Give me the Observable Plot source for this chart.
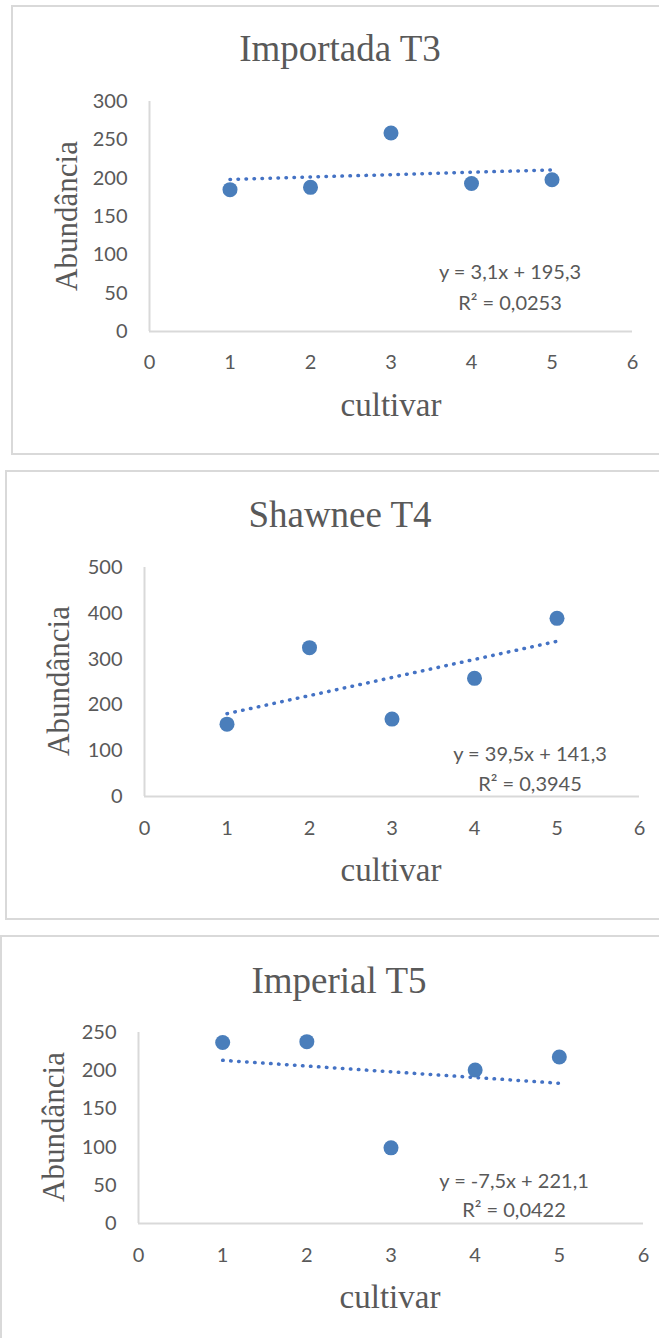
<!DOCTYPE html>
<html>
<head>
<meta charset="utf-8">
<script src="https://cdn.jsdelivr.net/npm/d3@7"></script>
<script src="https://cdn.jsdelivr.net/npm/@observablehq/plot@0.6"></script>
<style>
  html, body { margin: 0; padding: 0; background: #fff; overflow: hidden; }
  #page { position: relative; width: 659px; height: 1338px; overflow: hidden; }
  .box { position: absolute; border: 2px solid #d9d9d9; box-sizing: border-box; }
  .abs { position: absolute; white-space: nowrap; color: #595959; }
  .title { font-family: "Liberation Serif", serif; font-size: 37px; transform: translate(-50%, -50%); }
  .xlab { font-family: "Liberation Serif", serif; font-size: 33px; transform: translate(-50%, -50%); }
  .ylab { font-family: "Liberation Serif", serif; font-size: 31px; transform: translate(-50%, -50%) rotate(-90deg); }
  .eq { font-family: Lato, sans-serif; font-size: 20px; transform: translate(-50%, -50%); }
  .svgwrap { position: absolute; left: 0; }
</style>
</head>
<body>
<div id="page"></div>
<script>
// ---- data ----
const cultivar = [1, 2, 3, 4, 5];
const titles = ["Importada T3", "Shawnee T4", "Imperial T5"];
const abundanciaT3 = [185, 188, 259, 193, 198];
const abundanciaT4 = [158, 325, 169, 258, 389];
const abundanciaT5 = [237, 238, 99, 201, 218];
const equations = ["y = 3,1x + 195,3", "y = 39,5x + 141,3", "y = -7,5x + 221,1"];
const r2labels = ["R² = 0,0253", "R² = 0,3945", "R² = 0,0422"];
const xTicks = [0, 1, 2, 3, 4, 5, 6];
const yTicksT3 = [0, 50, 100, 150, 200, 250, 300];
const yTicksT4 = [0, 100, 200, 300, 400, 500];
const yTicksT5 = [0, 50, 100, 150, 200, 250];
const xLabel = "cultivar";
const yLabel = "Abundância";

// ---- layout ----
const page = document.getElementById("page");
const panels = [
  {values: abundanciaT3, yTicks: yTicksT3, svgTop: 0, height: 460,
   margin: {left: 149, right: 27, top: 101, bottom: 129},
   box: {left: 11, top: 5, width: 700, height: 450},
   title: [340, 48], ylab: [67, 216], xlab: [391, 405], eq: [510, 271], r2: [510, 302], xpad: 24},
  {values: abundanciaT4, yTicks: yTicksT4, svgTop: 460, height: 460,
   margin: {left: 144, right: 20, top: 107, bottom: 124},
   box: {left: 5, top: 470, width: 700, height: 450},
   title: [340, 514], ylab: [59, 681], xlab: [391, 870], eq: [530, 753], r2: [530, 783], xpad: 25},
  {values: abundanciaT5, yTicks: yTicksT5, svgTop: 920, height: 418,
   margin: {left: 138, right: 16, top: 112, bottom: 115},
   box: {left: 0, top: 935, width: 700, height: 450},
   title: [339, 980], ylab: [54, 1127], xlab: [390, 1297], eq: [514, 1180], r2: [514, 1209], xpad: 25}
];

function addText(cls, txt, pos) {
  const d = document.createElement("div");
  d.className = "abs " + cls;
  d.textContent = txt;
  d.style.left = pos[0] + "px";
  d.style.top = pos[1] + "px";
  page.appendChild(d);
}

panels.forEach((p, i) => {
  const box = document.createElement("div");
  box.className = "box";
  Object.assign(box.style, {left: p.box.left + "px", top: p.box.top + "px", width: p.box.width + "px", height: p.box.height + "px"});
  page.appendChild(box);

  const data = cultivar.map((c, j) => ({cultivar: c, abundancia: p.values[j]}));
  const yMax = p.yTicks[p.yTicks.length - 1];
  const chart = Plot.plot({
    width: 659,
    height: p.height,
    marginLeft: p.margin.left,
    marginRight: p.margin.right,
    marginTop: p.margin.top,
    marginBottom: p.margin.bottom,
    style: {fontFamily: "Lato, sans-serif", fontSize: "20px", color: "#595959", background: "transparent", overflow: "visible"},
    x: {domain: [0, 6]},
    y: {domain: [0, yMax]},
    marks: [
      Plot.ruleY([0], {stroke: "#d9d9d9", strokeWidth: 2}),
      Plot.ruleX([0], {stroke: "#d9d9d9", strokeWidth: 2}),
      Plot.axisX({ticks: xTicks, tickSize: 0, tickPadding: p.xpad - 1, label: null, fill: "#595959", fontSize: 20, tickFormat: d => String(d)}),
      Plot.axisY({ticks: p.yTicks, tickSize: 0, tickPadding: 22, label: null, fill: "#595959", fontSize: 20, tickFormat: d => String(d)}),
      Plot.linearRegressionY(data, {x: "cultivar", y: "abundancia", ci: 0, stroke: "#4472c4", strokeWidth: 3.5, strokeDasharray: "0.5,7.5", strokeLinecap: "round"}),
      Plot.dot(data, {x: "cultivar", y: "abundancia", r: 7.5, fill: "#4a7ebb", stroke: "none"})
    ]
  });
  const wrap = document.createElement("div");
  wrap.className = "svgwrap";
  wrap.style.top = p.svgTop + "px";
  wrap.appendChild(chart);
  page.appendChild(wrap);

  addText("title", titles[i], p.title);
  addText("ylab", yLabel, p.ylab);
  addText("xlab", xLabel, p.xlab);
  addText("eq", equations[i], p.eq);
  addText("eq", r2labels[i], p.r2);
});
</script>
</body>
</html>
